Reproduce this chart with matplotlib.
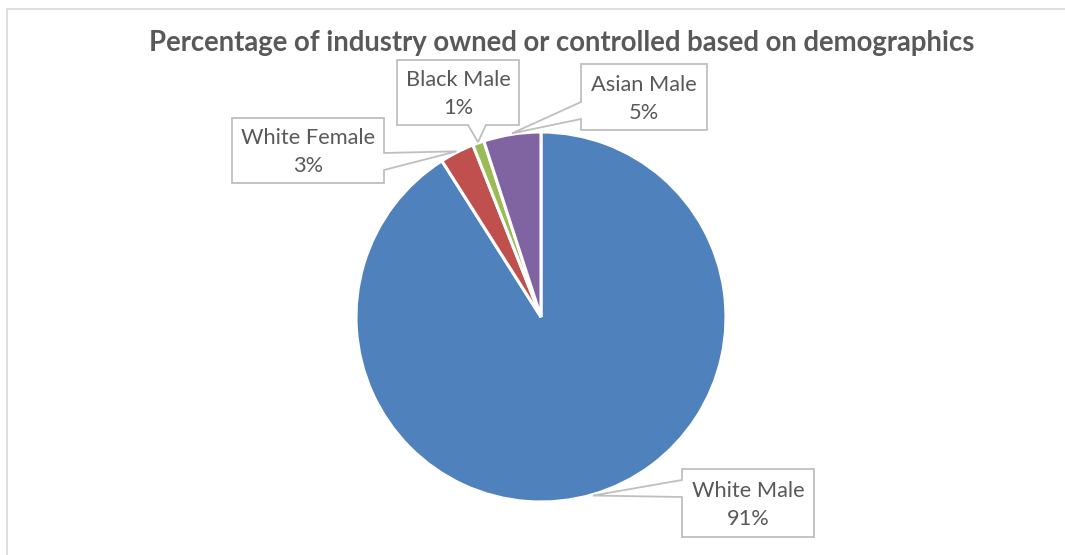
import matplotlib
matplotlib.use("Agg")
import matplotlib.pyplot as plt
from matplotlib.patches import Polygon, Rectangle
import numpy as np

# Data
categories = ["White Male", "White Female", "Black Male", "Asian Male"]
shares = [91, 3, 1, 5]
colors = ["#4F81BD", "#C0504D", "#9BBB59", "#8064A2"]
title = "Percentage of industry owned or controlled based on demographics"

# Callout layout in pixel units (left, top, right, bottom), pointer side, pointer base span
callout_boxes = {
    "White Male":   ((682, 469, 814, 537), "left",   (480, 497)),
    "White Female": ((232, 118, 384, 183), "right",  (153, 170)),
    "Black Male":   ((397, 60, 519, 125),  "bottom", (468, 486)),
    "Asian Male":   ((581, 64, 707, 130),  "left",   (102, 119)),
}

W, H = 1065, 555
TEXT = "#595959"
FONT = ["Lato", "DejaVu Sans"]

fig = plt.figure(figsize=(W / 100, H / 100), dpi=100)
ax = fig.add_axes([0, 0, 1, 1])

cx, cy, R = 541, H - 317, 185
wedges, _ = ax.pie(
    shares, colors=colors, startangle=90, counterclock=False,
    center=(cx, cy), radius=R,
    wedgeprops=dict(edgecolor="white", linewidth=2.2),
)
ax.set_xlim(0, W)
ax.set_ylim(0, H)
ax.set_aspect("equal")
ax.axis("off")

# Chart area frame
ax.add_patch(Rectangle((7, -20), W + 20, H - 9 + 20, fill=False,
                       edgecolor="#D9D9D9", linewidth=1.2, zorder=0))

ax.text(562, H - 43, title, ha="center", va="center", fontsize=19.8,
        fontweight="bold", color=TEXT, family=FONT)


def Y(v):
    return H - v


for wedge, cat, val in zip(wedges, categories, shares):
    mid = np.deg2rad((wedge.theta1 + wedge.theta2) / 2)
    tx = cx + R * 1.005 * np.cos(mid)
    ty = cy + R * 1.005 * np.sin(mid)
    (l, t, r, b), side, (p1, p2) = callout_boxes[cat]
    if side == "left":
        pts = [(l, Y(t)), (r, Y(t)), (r, Y(b)), (l, Y(b)), (l, Y(p2)),
               (tx, ty), (l, Y(p1))]
    elif side == "right":
        pts = [(l, Y(t)), (r, Y(t)), (r, Y(p1)), (tx, ty), (r, Y(p2)),
               (r, Y(b)), (l, Y(b))]
    else:
        pts = [(l, Y(t)), (r, Y(t)), (r, Y(b)), (p2, Y(b)), (tx, ty),
               (p1, Y(b)), (l, Y(b))]
    ax.add_patch(Polygon(pts, closed=True, facecolor="white",
                         edgecolor="#BFBFBF", linewidth=1.3, zorder=3,
                         joinstyle="miter"))
    ax.text((l + r) / 2, Y((t + b) / 2 + 2), f"{cat}\n{val}%", ha="center",
            va="center", fontsize=15.7, color=TEXT, family=FONT,
            linespacing=1.5, zorder=4)

fig.savefig("out.png", dpi=100)
